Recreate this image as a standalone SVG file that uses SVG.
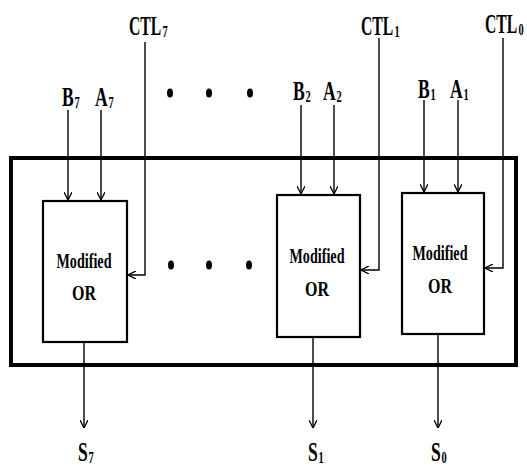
<svg xmlns="http://www.w3.org/2000/svg" width="527" height="469" viewBox="0 0 527 469">
<style>
.lbl{font-family:"Liberation Serif","Times New Roman",serif;font-size:27px;font-weight:bold;fill:#000}
.sub{font-family:"Liberation Serif","Times New Roman",serif;font-size:16px;font-weight:bold;fill:#000}
.mod{font-family:"Liberation Serif","Times New Roman",serif;font-weight:bold;font-size:22px;fill:#000;text-anchor:middle}
.wire{stroke:#000;stroke-width:1.4;fill:none}
.box{stroke:#000;stroke-width:2.2;fill:#fff}
</style>
<defs>
<marker id="ah" viewBox="0 0 10 10" refX="10" refY="5" markerWidth="8" markerHeight="8" markerUnits="userSpaceOnUse" orient="auto">
<path d="M0,0 L10,5 L0,10" fill="none" stroke="#000" stroke-width="1.6"/>
</marker>
</defs>
<rect x="11" y="158" width="505" height="207" fill="none" stroke="#000" stroke-width="4"/>
<g id="connectors">
<line class="wire" x1="68" y1="110" x2="68" y2="200" marker-end="url(#ah)"/>
<line class="wire" x1="101" y1="110" x2="101" y2="200" marker-end="url(#ah)"/>
<polyline class="wire" points="145,42 145,275 128,275" marker-end="url(#ah)"/>
<line class="wire" x1="84" y1="342" x2="84" y2="428" marker-end="url(#ah)"/>
<line class="wire" x1="301" y1="105" x2="301" y2="194" marker-end="url(#ah)"/>
<line class="wire" x1="334" y1="105" x2="334" y2="194" marker-end="url(#ah)"/>
<polyline class="wire" points="379,38 379,270 361,270" marker-end="url(#ah)"/>
<line class="wire" x1="313" y1="337" x2="313" y2="428" marker-end="url(#ah)"/>
<line class="wire" x1="424" y1="100" x2="424" y2="192" marker-end="url(#ah)"/>
<line class="wire" x1="458" y1="100" x2="458" y2="192" marker-end="url(#ah)"/>
<polyline class="wire" points="503,38 503,268 485,268" marker-end="url(#ah)"/>
<line class="wire" x1="438" y1="334" x2="438" y2="428" marker-end="url(#ah)"/>
</g>
<g id="or7">
<rect class="box" x="43" y="201" width="84" height="141"/>
<text class="mod" x="84" y="268" textLength="55" lengthAdjust="spacingAndGlyphs">Modified</text>
<text class="mod" x="84" y="300" textLength="24" lengthAdjust="spacingAndGlyphs">OR</text>
</g>
<g id="or1">
<rect class="box" x="277" y="195" width="83" height="142"/>
<text class="mod" x="317" y="263" textLength="55" lengthAdjust="spacingAndGlyphs">Modified</text>
<text class="mod" x="317" y="296" textLength="24" lengthAdjust="spacingAndGlyphs">OR</text>
</g>
<g id="or0">
<rect class="box" x="402" y="193" width="82" height="141"/>
<text class="mod" x="440" y="260" textLength="55" lengthAdjust="spacingAndGlyphs">Modified</text>
<text class="mod" x="440" y="293" textLength="24" lengthAdjust="spacingAndGlyphs">OR</text>
</g>
<g id="labels">
<text class="lbl" transform="translate(129,35) scale(0.58,1)">CTL</text><text class="sub" transform="translate(162.5,37) scale(0.65,1)">7</text>
<text class="lbl" transform="translate(361,35) scale(0.58,1)">CTL</text><text class="sub" transform="translate(394.5,37) scale(0.65,1)">1</text>
<text class="lbl" transform="translate(485,33) scale(0.58,1)">CTL</text><text class="sub" transform="translate(518.5,35) scale(0.65,1)">0</text>
<text class="lbl" transform="translate(62,106) scale(0.65,1)">B</text><text class="sub" transform="translate(74.5,108) scale(0.65,1)">7</text>
<text class="lbl" transform="translate(95,106) scale(0.65,1)">A</text><text class="sub" transform="translate(108.5,108) scale(0.65,1)">7</text>
<text class="lbl" transform="translate(293,100) scale(0.65,1)">B</text><text class="sub" transform="translate(305.5,102) scale(0.65,1)">2</text>
<text class="lbl" transform="translate(323,100) scale(0.65,1)">A</text><text class="sub" transform="translate(336.5,102) scale(0.65,1)">2</text>
<text class="lbl" transform="translate(418,98) scale(0.65,1)">B</text><text class="sub" transform="translate(430.5,100) scale(0.65,1)">1</text>
<text class="lbl" transform="translate(450,98) scale(0.65,1)">A</text><text class="sub" transform="translate(463.5,100) scale(0.65,1)">1</text>
<text class="lbl" transform="translate(78,461) scale(0.65,1)">S</text><text class="sub" transform="translate(88.5,463) scale(0.65,1)">7</text>
<text class="lbl" transform="translate(308,461) scale(0.65,1)">S</text><text class="sub" transform="translate(318.5,463) scale(0.65,1)">1</text>
<text class="lbl" transform="translate(431,461) scale(0.65,1)">S</text><text class="sub" transform="translate(441.5,463) scale(0.65,1)">0</text>
</g>
<g id="dots" fill="#000">
<ellipse cx="170" cy="93" rx="3" ry="4.5"/>
<ellipse cx="209" cy="93" rx="3" ry="4.5"/>
<ellipse cx="250" cy="93" rx="3" ry="4.5"/>
<ellipse cx="171" cy="265" rx="3" ry="4.5"/>
<ellipse cx="209" cy="265" rx="3" ry="4.5"/>
<ellipse cx="249" cy="265" rx="3" ry="4.5"/>
</g>
</svg>
